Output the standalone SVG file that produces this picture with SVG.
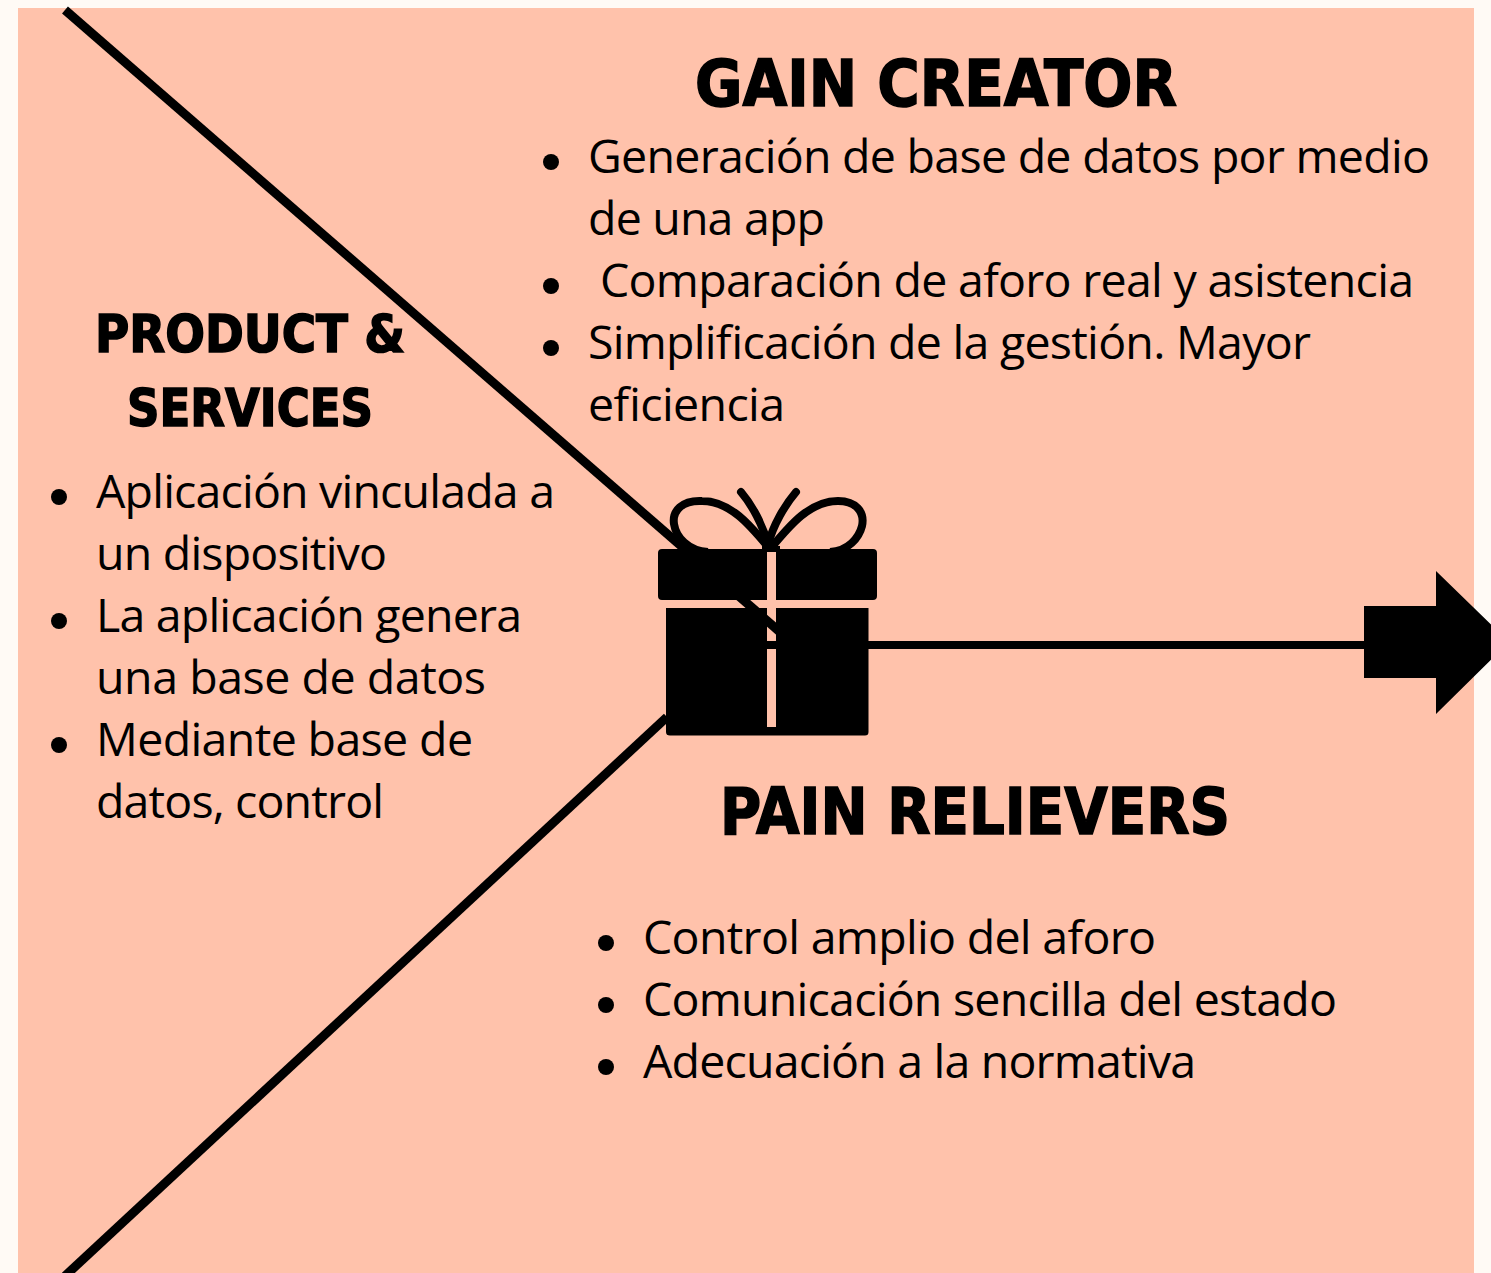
<svg xmlns="http://www.w3.org/2000/svg" width="1491" height="1273" viewBox="0 0 1491 1273">
<style>
.b{font-family:"Open Sans","DejaVu Sans",sans-serif;font-size:46.500px;fill:#000}
.h{font-family:"DejaVu Sans",sans-serif;font-weight:700;fill:#000;stroke:#000;stroke-width:1.6px}
.l{stroke:#000;stroke-width:8;fill:none}
.d{stroke:#000;stroke-width:9;fill:none}
.r{stroke:#000;stroke-width:8;fill:none;stroke-linecap:round}
</style>
<rect width="1491" height="1273" fill="#fffaf5"/>
<rect x="18" y="8" width="1456" height="1265" fill="#ffc2ab"/>
<g id="connectors">
<path class="d" d="M65 10L780 632"/>
<path class="d" d="M667 717L65 1276"/>
<path class="l" d="M767 645H1370"/>
<path id="arrow" d="M1364 606H1436V571L1509 642L1436 714V678H1364Z" fill="#000"/>
</g>
<g id="gift">
<path d="M662 549H767V557H776V549H873Q877 549 877 553V596Q877 600 873 600H776V557H767V600H662Q658 600 658 596V553Q658 549 662 549Z" fill="#000"/>
<path d="M666 608H767V727H776V608H868.500V732Q868.500 735.500 865 735.500H670Q666 735.500 666 732Z" fill="#000"/>
<path d="M762 546H780V552H762Z" fill="#000"/>
<path class="l" d="M769 548C750 525 730 501 702 501C682 500 672 511 674 524C676 537 688 551 708 552"/>
<path class="l" d="M771 548C790 525 810 501 838 501C856 501 865 512 862 526C859 538 848 551 830 552"/>
<path class="r" d="M768 545C763 525 752 505 741 492"/>
<path class="r" d="M768 545C773 525 785 505 796 492"/>
</g>
<g id="gain-creator">
<text class="h" x="936" y="106" font-size="64" text-anchor="middle" textLength="482" lengthAdjust="spacingAndGlyphs">GAIN CREATOR</text>
<circle cx="551" cy="162" r="8"/><circle cx="551" cy="286" r="8"/><circle cx="551" cy="348" r="8"/>
<text class="b" x="588" y="173" textLength="842" lengthAdjust="spacing">Generación de base de datos por medio</text>
<text class="b" x="588" y="235" textLength="237" lengthAdjust="spacing">de una app</text>
<text class="b" x="600" y="297" textLength="814" lengthAdjust="spacing">Comparación de aforo real y asistencia</text>
<text class="b" x="588" y="359" textLength="723" lengthAdjust="spacing">Simplificación de la gestión. Mayor</text>
<text class="b" x="588" y="421" textLength="197" lengthAdjust="spacing">eficiencia</text>
</g>
<g id="product-services">
<text class="h" x="250" y="352" font-size="52" text-anchor="middle" textLength="310" lengthAdjust="spacingAndGlyphs">PRODUCT &amp;</text>
<text class="h" x="250" y="426" font-size="52" text-anchor="middle" textLength="246" lengthAdjust="spacingAndGlyphs">SERVICES</text>
<circle cx="59" cy="497" r="8"/><circle cx="59" cy="621" r="8"/><circle cx="59" cy="745" r="8"/>
<text class="b" x="96" y="508" textLength="459" lengthAdjust="spacing">Aplicación vinculada a</text>
<text class="b" x="96" y="570" textLength="291" lengthAdjust="spacing">un dispositivo</text>
<text class="b" x="96" y="632" textLength="426" lengthAdjust="spacing">La aplicación genera</text>
<text class="b" x="96" y="694" textLength="390" lengthAdjust="spacing">una base de datos</text>
<text class="b" x="96" y="756" textLength="377" lengthAdjust="spacing">Mediante base de</text>
<text class="b" x="96" y="818" textLength="288" lengthAdjust="spacing">datos, control</text>
</g>
<g id="pain-relievers">
<text class="h" x="975" y="834" font-size="64" text-anchor="middle" textLength="510" lengthAdjust="spacingAndGlyphs">PAIN RELIEVERS</text>
<circle cx="606" cy="943" r="8"/><circle cx="606" cy="1005" r="8"/><circle cx="606" cy="1067" r="8"/>
<text class="b" x="643" y="954" textLength="513" lengthAdjust="spacing">Control amplio del aforo</text>
<text class="b" x="643" y="1016" textLength="694" lengthAdjust="spacing">Comunicación sencilla del estado</text>
<text class="b" x="643" y="1078" textLength="553" lengthAdjust="spacing">Adecuación a la normativa</text>
</g>
</svg>
